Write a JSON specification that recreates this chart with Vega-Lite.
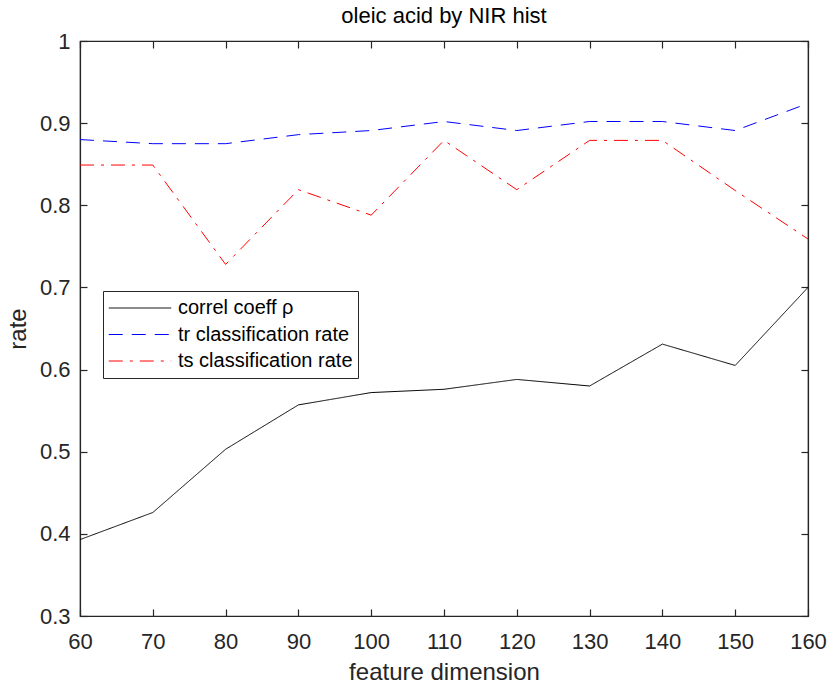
{
  "$schema": "https://vega.github.io/schema/vega-lite/v6.json",
  "width": 728,
  "height": 575,
  "autosize": {"type": "none"},
  "padding": {"left": 80, "top": 41, "right": 21, "bottom": 74},
  "background": "white",
  "title": {"text": "oleic acid by NIR hist", "fontSize": 22, "font": "Liberation Sans", "fontWeight": "normal", "color": "#000000", "offset": 2},
  "config": {
    "view": {"stroke": "#262626", "strokeWidth": 1.2},
    "axis": {"grid": false, "domainColor": "#262626", "tickColor": "#262626", "labelColor": "#262626", "titleColor": "#262626", "labelFont": "Liberation Sans", "titleFont": "Liberation Sans", "labelFontSize": 22, "titleFontSize": 24, "titleFontWeight": "normal", "tickSize": -7, "domainWidth": 1.2, "tickWidth": 1.2, "labelFlush": false}
  },
  "data": {"values": [
    {"x": 60, "s": "correl coeff ρ", "v": 0.393},
    {"x": 70, "s": "correl coeff ρ", "v": 0.426},
    {"x": 80, "s": "correl coeff ρ", "v": 0.503},
    {"x": 90, "s": "correl coeff ρ", "v": 0.557},
    {"x": 100, "s": "correl coeff ρ", "v": 0.572},
    {"x": 110, "s": "correl coeff ρ", "v": 0.576},
    {"x": 120, "s": "correl coeff ρ", "v": 0.588},
    {"x": 130, "s": "correl coeff ρ", "v": 0.580},
    {"x": 140, "s": "correl coeff ρ", "v": 0.631},
    {"x": 150, "s": "correl coeff ρ", "v": 0.605},
    {"x": 160, "s": "correl coeff ρ", "v": 0.700},
    {"x": 60, "s": "tr classification rate", "v": 0.880},
    {"x": 70, "s": "tr classification rate", "v": 0.875},
    {"x": 80, "s": "tr classification rate", "v": 0.875},
    {"x": 90, "s": "tr classification rate", "v": 0.886},
    {"x": 100, "s": "tr classification rate", "v": 0.891},
    {"x": 110, "s": "tr classification rate", "v": 0.902},
    {"x": 120, "s": "tr classification rate", "v": 0.891},
    {"x": 130, "s": "tr classification rate", "v": 0.902},
    {"x": 140, "s": "tr classification rate", "v": 0.902},
    {"x": 150, "s": "tr classification rate", "v": 0.891},
    {"x": 160, "s": "tr classification rate", "v": 0.924},
    {"x": 60, "s": "ts classification rate", "v": 0.849},
    {"x": 70, "s": "ts classification rate", "v": 0.849},
    {"x": 80, "s": "ts classification rate", "v": 0.728},
    {"x": 90, "s": "ts classification rate", "v": 0.819},
    {"x": 100, "s": "ts classification rate", "v": 0.788},
    {"x": 110, "s": "ts classification rate", "v": 0.879},
    {"x": 120, "s": "ts classification rate", "v": 0.819},
    {"x": 130, "s": "ts classification rate", "v": 0.879},
    {"x": 140, "s": "ts classification rate", "v": 0.879},
    {"x": 150, "s": "ts classification rate", "v": 0.818},
    {"x": 160, "s": "ts classification rate", "v": 0.759}
  ]},
  "layer": [
    {
      "mark": {"type": "line", "strokeWidth": 1, "clip": true},
      "encoding": {
        "x": {"field": "x", "type": "quantitative", "scale": {"domain": [60, 160], "nice": false}, "axis": {"title": "feature dimension", "values": [60,70,80,90,100,110,120,130,140,150,160], "labelPadding": 22, "titlePadding": 8}},
        "y": {"field": "v", "type": "quantitative", "scale": {"domain": [0.3, 1], "nice": false, "zero": false}, "axis": {"title": "rate", "values": [0.3,0.4,0.5,0.6,0.7,0.8,0.9,1], "format": "~g", "labelPadding": 17, "titlePadding": 9}},
        "color": {"field": "s", "type": "nominal", "scale": {"domain": ["correl coeff ρ", "tr classification rate", "ts classification rate"], "range": ["#000000", "#0000ff", "#ff0000"]},
          "legend": {"title": null, "orient": "none", "legendX": 23, "legendY": 250, "strokeColor": "#262626", "fillColor": "white", "padding": 5, "symbolType": "stroke", "symbolSize": 3900, "symbolStrokeWidth": 1, "clipHeight": 24, "rowPadding": 2.5, "labelFont": "Liberation Sans", "labelFontSize": 20, "labelColor": "#000000", "labelOffset": 6, "labelLimit": 400}},
        "strokeDash": {"field": "s", "type": "nominal", "scale": {"domain": ["correl coeff ρ", "tr classification rate", "ts classification rate"], "range": [[1, 0], [14, 9], [14, 7, 3, 7]]}}
      }
    },
    {
      "mark": {"type": "point", "opacity": 0},
      "encoding": {
        "x": {"field": "x", "type": "quantitative", "scale": {"domain": [60, 160], "nice": false}, "axis": {"orient": "top", "title": null, "labels": false, "values": [60,70,80,90,100,110,120,130,140,150,160]}},
        "y": {"field": "v", "type": "quantitative", "scale": {"domain": [0.3, 1], "nice": false, "zero": false}, "axis": {"orient": "right", "title": null, "labels": false, "values": [0.3,0.4,0.5,0.6,0.7,0.8,0.9,1]}}
      }
    }
  ],
  "resolve": {"axis": {"x": "independent", "y": "independent"}}
}
